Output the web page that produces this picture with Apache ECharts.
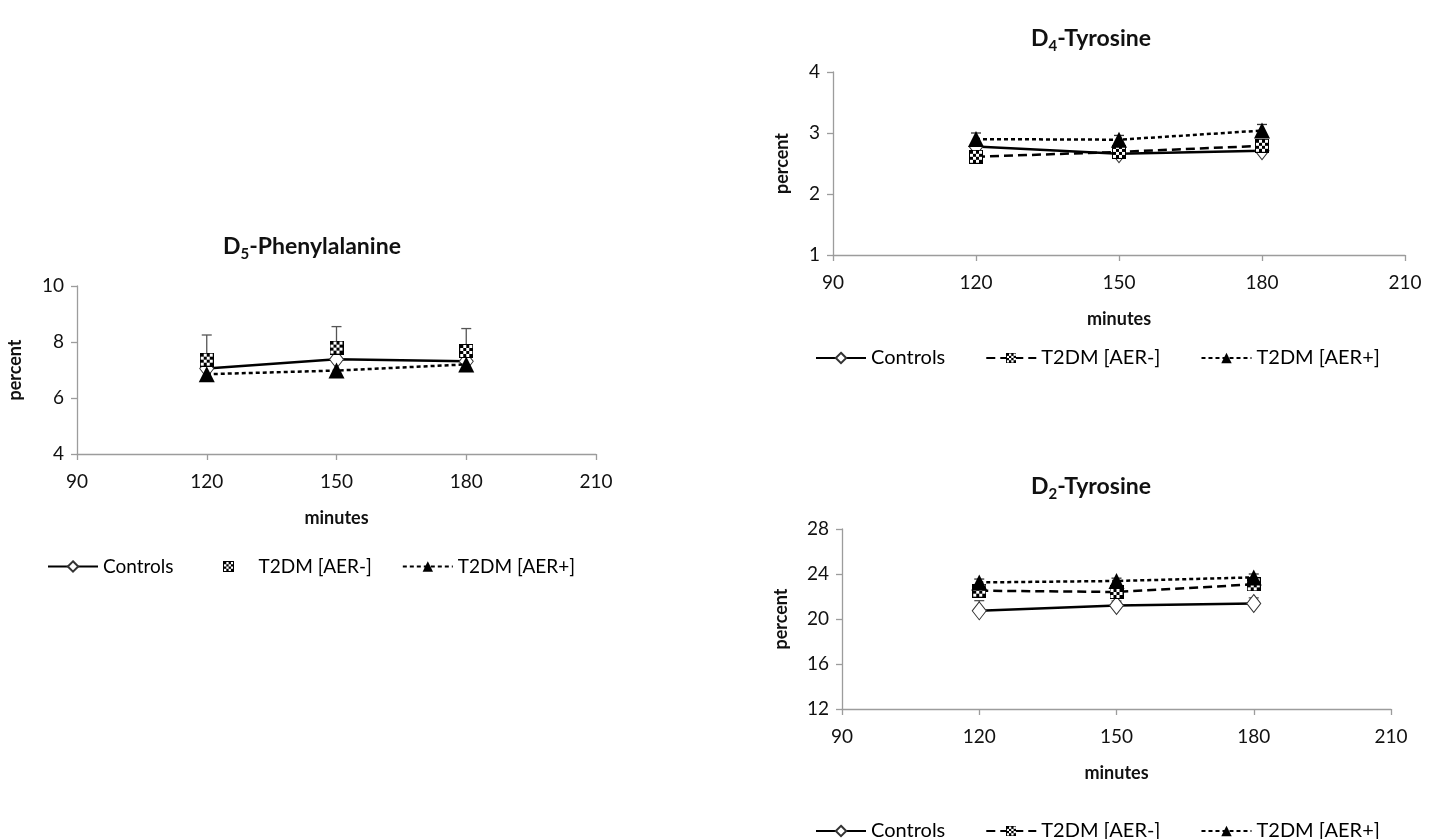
<!DOCTYPE html>
<html>
<head>
<meta charset="utf-8">
<script src="https://cdn.jsdelivr.net/npm/echarts@6/dist/echarts.min.js"></script>
<style>
  html, body { margin: 0; padding: 0; background: #fff; }
  .panel { position: absolute; left: 0; top: 0; width: 1439px; height: 839px; }
</style>
</head>
<body>
<div id="viz_phe" class="panel"></div>
<div id="viz_tyr4" class="panel"></div>
<div id="viz_tyr2" class="panel"></div>
<script>
const MINUTES = [120, 150, 180];
const SERIES_NAMES = ['Controls', 'T2DM [AER-]', 'T2DM [AER+]'];

// D5-Phenylalanine (percent)
const pheControls = [7.05, 7.38, 7.31];
const pheAerNeg = [7.37, 7.80, 7.68];
const pheAerNegErr = [0.88, 0.75, 0.80];
const pheAerPos = [6.85, 6.98, 7.20];

// D4-Tyrosine (percent)
const tyr4Controls = [2.78, 2.66, 2.71];
const tyr4AerNeg = [2.61, 2.69, 2.79];
const tyr4AerPos = [2.90, 2.89, 3.04];
const tyr4AerPosErr = [0.10, 0.07, 0.10];

// D2-Tyrosine (percent)
const tyr2Controls = [20.73, 21.20, 21.38];
const tyr2ControlsErr = [0.90, 0.40, 0.50];
const tyr2AerNeg = [22.52, 22.40, 23.08];
const tyr2AerPos = [23.25, 23.38, 23.70];
const tyr2AerPosErr = [0.30, 0.25, 0.30];

const FONT = 'Lato, "Open Sans", sans-serif';
const AXIS_GREY = '#9c9c9c';

// checkered square marker, drawn once and used as an image symbol
function checkerSymbol() {
    const c = document.createElement('canvas');
    c.width = 14; c.height = 14;
    const ctx = c.getContext('2d');
    ctx.fillStyle = '#000';
    ctx.fillRect(0, 0, 14, 14);
    ctx.fillStyle = '#fff';
    ctx.fillRect(1, 1, 12, 12);
    ctx.fillStyle = '#000';
    for (let r = 0; r < 4; r++) {
        for (let k = 0; k < 4; k++) {
            if ((r + k) % 2 === 0) ctx.fillRect(1 + k * 3, 1 + r * 3, 3, 3);
        }
    }
    return 'image://' + c.toDataURL();
}
const CHECKER = checkerSymbol();

function pairs(values) {
    return MINUTES.map((m, i) => [m, values[i]]);
}

function errorSeries(values, errs, color) {
    return {
        type: 'custom',
        silent: true,
        z: 1,
        data: MINUTES.map((m, i) => [m, values[i], errs[i]]),
        renderItem: (params, api) => {
            const x = api.value(0), y = api.value(1), e = api.value(2);
            const p0 = api.coord([x, y]);
            const p1 = api.coord([x, y + e]);
            const st = { stroke: color, lineWidth: 1.3 };
            return {
                type: 'group',
                children: [
                    { type: 'line', shape: { x1: p0[0], y1: p0[1], x2: p1[0], y2: p1[1] }, style: st },
                    { type: 'line', shape: { x1: p1[0] - 5, y1: p1[1], x2: p1[0] + 5, y2: p1[1] }, style: st }
                ]
            };
        }
    };
}

function controlsSeries(values) {
    return {
        name: SERIES_NAMES[0], type: 'line', z: 3,
        data: pairs(values),
        symbol: 'diamond', symbolSize: [14, 18],
        itemStyle: { color: '#fff', borderColor: '#333', borderWidth: 1 },
        lineStyle: { color: '#000', width: 2.5, type: 'solid' }
    };
}

function aerNegSeries(values, withLine) {
    return {
        name: SERIES_NAMES[1], type: 'line', z: 4,
        data: pairs(values),
        symbol: CHECKER, symbolSize: 14,
        itemStyle: { color: '#000' },
        lineStyle: withLine
            ? { color: '#000', width: 2.5, type: [9, 5] }
            : { color: '#000', width: 0, opacity: 0 }
    };
}

function aerPosSeries(values) {
    return {
        name: SERIES_NAMES[2], type: 'line', z: 5,
        data: pairs(values),
        symbol: 'triangle', symbolSize: [16, 16],
        itemStyle: { color: '#000' },
        lineStyle: { color: '#000', width: 2.5, type: [4, 3] }
    };
}

function titleText(sub, rest) {
    return `{m|D}{s|${sub}}{m|${rest}}`;
}

function buildOption(cfg) {
    return {
        animation: false,
        textStyle: { fontFamily: FONT },
        title: {
            text: titleText(cfg.sub, cfg.rest),
            left: cfg.titleX, top: cfg.titleY, textAlign: 'center',
            textStyle: {
                rich: {
                    m: { fontFamily: FONT, fontSize: 23, fontWeight: 'bold', color: '#111', lineHeight: 32 },
                    s: { fontFamily: FONT, fontSize: 15, fontWeight: 'bold', color: '#111', lineHeight: 16, padding: [14, 0, 0, 0] }
                }
            }
        },
        legend: {
            data: SERIES_NAMES,
            left: cfg.legendX, top: cfg.legendY,
            itemWidth: 50, itemHeight: 13, itemGap: cfg.legendGap,
            textStyle: { fontFamily: FONT, fontSize: cfg.legendFont, color: '#000' }
        },
        grid: { left: cfg.grid[0], top: cfg.grid[1], width: cfg.grid[2], height: cfg.grid[3] },
        xAxis: {
            type: 'value', min: 90, max: 210, interval: 30,
            name: 'minutes', nameLocation: 'middle', nameGap: 55,
            nameTextStyle: { fontFamily: FONT, fontSize: 18, fontWeight: 'bold', color: '#111' },
            axisLine: { onZero: false, lineStyle: { color: AXIS_GREY, width: 1.3 } },
            axisTick: { show: true, length: 6, lineStyle: { color: AXIS_GREY, width: 1.3 } },
            axisLabel: { fontFamily: FONT, fontSize: 19, color: '#111', margin: 18 },
            splitLine: { show: false }
        },
        yAxis: {
            type: 'value', min: cfg.yMin, max: cfg.yMax, interval: cfg.yStep,
            name: 'percent', nameLocation: 'middle', nameGap: cfg.yNameGap, nameRotate: 90,
            nameTextStyle: { fontFamily: FONT, fontSize: 18, fontWeight: 'bold', color: '#111' },
            axisLine: { show: true, onZero: false, lineStyle: { color: AXIS_GREY, width: 1.3 } },
            axisTick: { show: true, length: 6, lineStyle: { color: AXIS_GREY, width: 1.3 } },
            axisLabel: { fontFamily: FONT, fontSize: 19, color: '#111', margin: 13 },
            splitLine: { show: false }
        },
        series: cfg.series
    };
}

const phe = echarts.init(document.getElementById('viz_phe'), null, { renderer: 'canvas' });
phe.setOption(buildOption({
    sub: '5', rest: '-Phenylalanine', titleX: 307, titleY: 226,
    legendX: 42, legendY: 552, legendGap: 30, legendFont: 19,
    grid: [77, 286, 519, 168],
    yMin: 4, yMax: 10, yStep: 2, yNameGap: 53,
    series: [
        errorSeries(pheAerNeg, pheAerNegErr, '#555'),
        controlsSeries(pheControls),
        aerNegSeries(pheAerNeg, false),
        aerPosSeries(pheAerPos)
    ]
}));

const tyr4 = echarts.init(document.getElementById('viz_tyr4'), null, { renderer: 'canvas' });
tyr4.setOption(buildOption({
    sub: '4', rest: '-Tyrosine', titleX: 1086, titleY: 18,
    legendX: 810, legendY: 343, legendGap: 40, legendFont: 20,
    grid: [833, 72, 572, 183],
    yMin: 1, yMax: 4, yStep: 1, yNameGap: 42,
    series: [
        errorSeries(tyr4AerPos, tyr4AerPosErr, '#333'),
        controlsSeries(tyr4Controls),
        aerNegSeries(tyr4AerNeg, true),
        aerPosSeries(tyr4AerPos)
    ]
}));

const tyr2 = echarts.init(document.getElementById('viz_tyr2'), null, { renderer: 'canvas' });
tyr2.setOption(buildOption({
    sub: '2', rest: '-Tyrosine', titleX: 1086, titleY: 466,
    legendX: 810, legendY: 816, legendGap: 40, legendFont: 20,
    grid: [842, 529, 549, 180],
    yMin: 12, yMax: 28, yStep: 4, yNameGap: 52,
    series: [
        errorSeries(tyr2Controls, tyr2ControlsErr, '#555'),
        errorSeries(tyr2AerPos, tyr2AerPosErr, '#333'),
        controlsSeries(tyr2Controls),
        aerNegSeries(tyr2AerNeg, true),
        aerPosSeries(tyr2AerPos)
    ]
}));
</script>
</body>
</html>
